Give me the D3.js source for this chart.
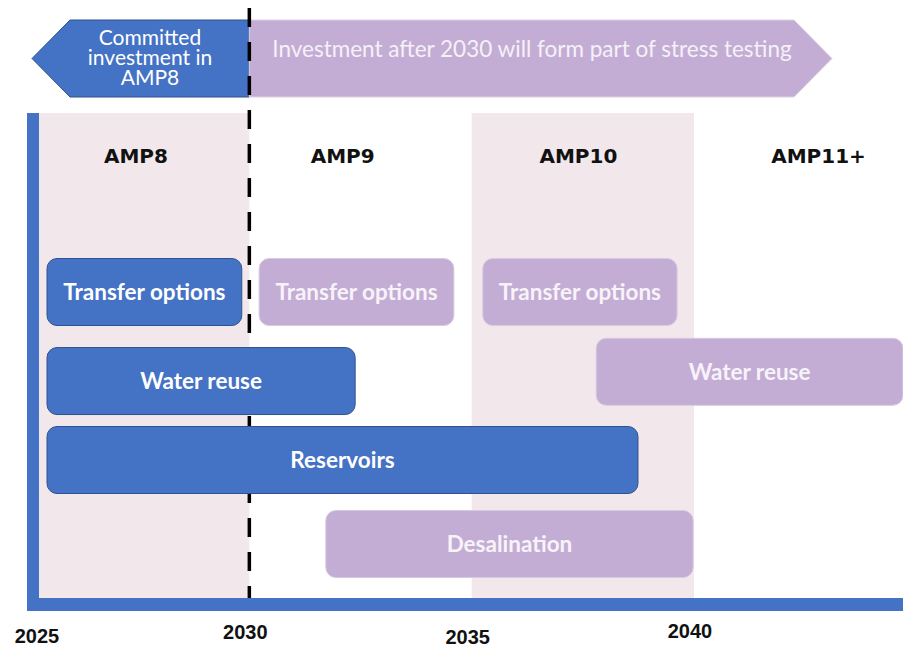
<!DOCTYPE html>
<html>
<head>
<meta charset="utf-8">
<script src="https://cdn.jsdelivr.net/npm/d3@7"></script>
<style>
  body { margin: 0; background: #fff; }
  svg { display: block; }
</style>
</head>
<body>
<div id="chart"></div>
<script>
var width = 903,
    height = 647

// time axis
const tickYears = [2025, 2030, 2035, 2040]
const tickLabels = ['2025', '2030', '2035', '2040']

// regulatory periods
const periodNames = ['AMP8', 'AMP9', 'AMP10', 'AMP11+']
const periodStart = [2025, 2030, 2035, 2040]
const periodEnd = [2030, 2035, 2040, 2045]
const periodLabelAt = [2027.45, 2032.1, 2037.4, 2042.8]
const periodShaded = [true, false, true, false]

// options (start / end year, lane, committed or not)
const optionNames = ['Transfer options', 'Transfer options', 'Transfer options', 'Water reuse', 'Water reuse', 'Reservoirs', 'Desalination']
const optionStart = [2025.45, 2030.22, 2035.25, 2025.45, 2037.8, 2025.45, 2031.72]
const optionEnd = [2029.83, 2034.6, 2039.62, 2032.38, 2044.7, 2038.74, 2039.98]
const optionLane = [0, 0, 0, 1.06, 0.95, 2, 3]
const optionCommitted = [true, false, false, true, false, true, false]

// banner arrows
const commitYear = 2030
const bannerLeft = ['Committed', 'investment in', 'AMP8']
const bannerRight = 'Investment after 2030 will form part of stress testing'

const blue = '#4472c4',
      blueEdge = '#2f528f',
      purple = '#c4add5',
      band = '#f2e8ec'

const x = d3.scaleLinear().domain([2025, 2040]).range([27, 694])
const lane = d3.scaleLinear().domain([0, 3]).range([292, 544])
const barH = 67

const svg = d3.select('#chart').append('svg')
  .attr('width', width)
  .attr('height', height)

const plotTop = 113, plotBottom = 598

// shaded period bands
svg.selectAll('rect.band')
  .data(periodNames.map((n, i) => ({ s: periodStart[i], e: periodEnd[i], shade: periodShaded[i] })).filter(d => d.shade))
  .enter().append('rect')
  .attr('class', 'band')
  .attr('x', d => x(d.s))
  .attr('width', d => x(d.e) - x(d.s))
  .attr('y', plotTop)
  .attr('height', plotBottom - plotTop)
  .attr('fill', band)

// period labels
svg.selectAll('text.period')
  .data(periodNames)
  .enter().append('text')
  .attr('class', 'period')
  .attr('x', (d, i) => x(periodLabelAt[i]))
  .attr('y', 163)
  .attr('text-anchor', 'middle')
  .style('font-family', '"DejaVu Sans", sans-serif')
  .style('font-weight', 'bold')
  .style('font-size', '20px')
  .attr('fill', '#111')
  .text(d => d)

// banner arrows
const bTop = 20, bBot = 97, bMid = (bTop + bBot) / 2
const xc = x(commitYear)
svg.append('path')
  .attr('d', 'M' + xc + ',' + bTop + 'H70L32,' + bMid + 'L70,' + bBot + 'H' + xc + 'Z')
  .attr('fill', blue)
  .attr('stroke', blueEdge)
  .attr('stroke-width', 1)
svg.append('path')
  .attr('d', 'M' + xc + ',' + bTop + 'H794L832,' + bMid + 'L794,' + bBot + 'H' + xc + 'Z')
  .attr('fill', purple)
  .attr('stroke', '#ddd0e6')
  .attr('stroke-width', 1)

svg.append('text')
  .attr('x', 150)
  .attr('y', 45)
  .attr('text-anchor', 'middle')
  .style('font-family', 'Lato, sans-serif')
  .style('font-size', '21px')
  .attr('fill', '#fff')
  .selectAll('tspan')
  .data(bannerLeft)
  .enter().append('tspan')
  .attr('x', 150)
  .attr('dy', (d, i) => i ? 20 : 0)
  .text(d => d)

svg.append('text')
  .attr('x', 532)
  .attr('y', 57)
  .attr('text-anchor', 'middle')
  .style('font-family', 'Lato, sans-serif')
  .style('font-size', '22.5px')
  .attr('fill', '#f5f1f7')
  .text(bannerRight)

// dashed commitment line
svg.append('line')
  .attr('x1', xc).attr('x2', xc)
  .attr('y1', 8).attr('y2', 611)
  .attr('stroke', '#000')
  .attr('stroke-width', 3.5)
  .attr('stroke-dasharray', '19,15')

// axis bars
svg.append('rect')
  .attr('x', x(2025)).attr('y', plotTop)
  .attr('width', 12).attr('height', 611 - plotTop)
  .attr('fill', blue)
svg.append('rect')
  .attr('x', x(2025)).attr('y', plotBottom)
  .attr('width', width - x(2025)).attr('height', 13)
  .attr('fill', blue)

// year labels (slightly staggered as in the source)
const labelDy = [45, 41, 46, 40]
svg.selectAll('text.year')
  .data(tickYears)
  .enter().append('text')
  .attr('class', 'year')
  .attr('x', (d, i) => x(d) + (i === 0 ? 10 : -4))
  .attr('y', (d, i) => plotBottom + labelDy[i])
  .attr('text-anchor', 'middle')
  .style('font-family', '"Liberation Sans Narrow", "Liberation Sans", sans-serif')
  .style('font-weight', 'bold')
  .style('font-size', '20px')
  .attr('fill', '#111')
  .text((d, i) => tickLabels[i])

// option bars
const opts = optionNames.map((n, i) => ({
  name: n, s: optionStart[i], e: optionEnd[i], lane: optionLane[i], committed: optionCommitted[i]
}))

const g = svg.selectAll('g.opt')
  .data(opts)
  .enter().append('g')
  .attr('class', 'opt')

g.append('rect')
  .attr('x', d => x(d.s))
  .attr('y', d => lane(d.lane) - barH / 2)
  .attr('width', d => x(d.e) - x(d.s))
  .attr('height', barH)
  .attr('rx', 10)
  .attr('fill', d => d.committed ? blue : purple)
  .attr('stroke', d => d.committed ? blueEdge : '#d8cae3')
  .attr('stroke-width', 1)

g.append('text')
  .attr('x', d => (x(d.s) + x(d.e)) / 2)
  .attr('y', d => lane(d.lane))
  .attr('dy', '0.35em')
  .attr('text-anchor', 'middle')
  .style('font-family', 'Lato, sans-serif')
  .style('font-weight', 'bold')
  .style('font-size', '22.5px')
  .attr('fill', d => d.committed ? '#fff' : '#f7f3f9')
  .text(d => d.name)
</script>
</body>
</html>
